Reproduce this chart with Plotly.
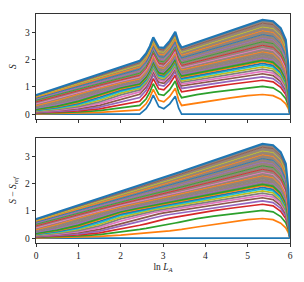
import numpy as np
import plotly.graph_objects as go

# x positions (ln L_A) where the curves were read
ln_la = [0, 0.5, 1, 1.5, 2, 2.45, 2.6, 2.69, 2.77, 2.9, 3.02, 3.16, 3.29, 3.37, 3.44,
         3.8, 4.2, 4.6, 5.0, 5.35, 5.6, 5.78, 5.9, 5.96, 6.0]

# reference entropy S_ref (lowest curve of the upper panel)
s_ref = [0, 0, 0, 0, 0, 0, 0.2, 0.42, 0.7, 0.28, 0.2, 0.38, 0.66, 0.22, 0,
         0, 0, 0, 0, 0, 0, 0, 0, 0, 0]

# S - S_ref for each curve (curve index k)
ds_k0 = [0] * 25
ds_k1 = [0.015, 0.025, 0.04, 0.065, 0.11, 0.16, 0.18, 0.195, 0.21, 0.23, 0.25, 0.27, 0.29, 0.305, 0.32, 0.41, 0.50, 0.60, 0.68, 0.72, 0.68, 0.55, 0.38, 0.21, 0]
ds_k2 = [0.03, 0.05, 0.08, 0.13, 0.22, 0.32, 0.357, 0.386, 0.415, 0.45, 0.487, 0.52, 0.556, 0.579, 0.604, 0.717, 0.81, 0.89, 0.967, 1.017, 0.965, 0.793, 0.565, 0.322, 0]
ds_k3 = [0.045, 0.075, 0.12, 0.195, 0.329, 0.473, 0.527, 0.566, 0.602, 0.648, 0.691, 0.732, 0.766, 0.793, 0.817, 0.922, 1.012, 1.095, 1.178, 1.242, 1.182, 0.984, 0.718, 0.417, 0]
ds_k4 = [0.06, 0.10, 0.16, 0.26, 0.435, 0.611, 0.671, 0.711, 0.747, 0.791, 0.832, 0.868, 0.898, 0.922, 0.942, 1.033, 1.122, 1.208, 1.295, 1.367, 1.304, 1.092, 0.807, 0.474, 0]
ds_k5 = [0.075, 0.125, 0.20, 0.324, 0.535, 0.727, 0.786, 0.824, 0.854, 0.892, 0.927, 0.963, 0.990, 1.015, 1.034, 1.123, 1.216, 1.307, 1.402, 1.479, 1.414, 1.191, 0.888, 0.527, 0]
ds_k6 = [0.09, 0.15, 0.24, 0.388, 0.627, 0.817, 0.871, 0.905, 0.932, 0.967, 1.0, 1.035, 1.06, 1.084, 1.103, 1.195, 1.29, 1.387, 1.487, 1.569, 1.502, 1.271, 0.955, 0.571, 0]
ds_k7 = [0.105, 0.175, 0.279, 0.45, 0.706, 0.889, 0.937, 0.967, 0.992, 1.026, 1.057, 1.092, 1.118, 1.143, 1.163, 1.257, 1.357, 1.459, 1.564, 1.65, 1.581, 1.345, 1.018, 0.611, 0]
ds_k8 = [0.12, 0.20, 0.319, 0.51, 0.773, 0.949, 0.995, 1.025, 1.047, 1.08, 1.112, 1.148, 1.174, 1.2, 1.22, 1.318, 1.423, 1.529, 1.64, 1.73, 1.661, 1.417, 1.08, 0.652, 0]
ds_k9 = [0.135, 0.225, 0.358, 0.567, 0.834, 0.998, 1.041, 1.071, 1.094, 1.127, 1.16, 1.198, 1.225, 1.251, 1.272, 1.372, 1.482, 1.591, 1.706, 1.80, 1.73, 1.481, 1.136, 0.689, 0]
ds_k10 = [0.15, 0.25, 0.396, 0.62, 0.882, 1.037, 1.08, 1.11, 1.132, 1.167, 1.2, 1.239, 1.266, 1.293, 1.314, 1.418, 1.531, 1.644, 1.763, 1.86, 1.789, 1.536, 1.185, 0.722, 0]
ds_k11 = [0.165, 0.274, 0.435, 0.671, 0.923, 1.075, 1.118, 1.147, 1.171, 1.207, 1.24, 1.279, 1.307, 1.335, 1.357, 1.464, 1.58, 1.697, 1.82, 1.92, 1.847, 1.594, 1.233, 0.755, 0]
ds_k12 = [0.18, 0.299, 0.471, 0.716, 0.957, 1.106, 1.148, 1.179, 1.203, 1.238, 1.272, 1.312, 1.341, 1.369, 1.392, 1.502, 1.622, 1.742, 1.867, 1.97, 1.897, 1.639, 1.275, 0.782, 0]
ds_k14 = [0.209, 0.347, 0.542, 0.792, 1.013, 1.16, 1.204, 1.235, 1.259, 1.296, 1.332, 1.373, 1.403, 1.433, 1.457, 1.57, 1.696, 1.821, 1.953, 2.06, 1.988, 1.724, 1.351, 0.834, 0]
ds_k17 = [0.253, 0.417, 0.634, 0.876, 1.075, 1.225, 1.27, 1.302, 1.327, 1.365, 1.403, 1.447, 1.478, 1.51, 1.535, 1.654, 1.786, 1.918, 2.057, 2.17, 2.096, 1.829, 1.445, 0.898, 0]
ds_k21 = [0.31, 0.50, 0.729, 0.946, 1.134, 1.288, 1.335, 1.368, 1.394, 1.434, 1.474, 1.52, 1.553, 1.586, 1.613, 1.738, 1.877, 2.016, 2.161, 2.28, 2.207, 1.936, 1.541, 0.964, 0]
ds_k26 = [0.375, 0.583, 0.807, 1.008, 1.196, 1.357, 1.405, 1.44, 1.468, 1.51, 1.551, 1.6, 1.635, 1.67, 1.697, 1.83, 1.976, 2.122, 2.275, 2.40, 2.328, 2.054, 1.651, 1.039, 0]
ds_k33 = [0.448, 0.66, 0.872, 1.063, 1.256, 1.424, 1.475, 1.512, 1.541, 1.585, 1.629, 1.68, 1.716, 1.753, 1.782, 1.921, 2.074, 2.228, 2.388, 2.52, 2.449, 2.172, 1.761, 1.119, 0]
ds_k42 = [0.509, 0.717, 0.924, 1.12, 1.321, 1.498, 1.552, 1.59, 1.621, 1.667, 1.713, 1.767, 1.805, 1.843, 1.874, 2.02, 2.181, 2.343, 2.512, 2.65, 2.581, 2.303, 1.887, 1.206, 0]
ds_k54 = [0.554, 0.762, 0.974, 1.176, 1.386, 1.571, 1.628, 1.668, 1.70, 1.749, 1.797, 1.853, 1.894, 1.934, 1.966, 2.119, 2.288, 2.458, 2.635, 2.78, 2.713, 2.438, 2.013, 1.295, 0]
ds_k70 = [0.587, 0.80, 1.021, 1.232, 1.451, 1.645, 1.704, 1.746, 1.78, 1.83, 1.881, 1.94, 1.982, 2.024, 2.058, 2.218, 2.396, 2.573, 2.758, 2.91, 2.846, 2.57, 2.145, 1.385, 0]
ds_k91 = [0.618, 0.84, 1.07, 1.291, 1.521, 1.724, 1.786, 1.83, 1.865, 1.918, 1.972, 2.033, 2.078, 2.122, 2.157, 2.325, 2.511, 2.697, 2.891, 3.05, 2.989, 2.718, 2.288, 1.488, 0]
ds_k118 = [0.647, 0.878, 1.119, 1.35, 1.59, 1.803, 1.868, 1.914, 1.951, 2.006, 2.062, 2.127, 2.173, 2.219, 2.256, 2.432, 2.626, 2.82, 3.023, 3.19, 3.133, 2.868, 2.434, 1.595, 0]
ds_k155 = [0.676, 0.917, 1.168, 1.409, 1.66, 1.882, 1.95, 1.998, 2.037, 2.095, 2.152, 2.22, 2.268, 2.316, 2.355, 2.538, 2.741, 2.944, 3.156, 3.33, 3.277, 3.017, 2.587, 1.705, 0]
ds_k200 = [0.70, 0.95, 1.21, 1.46, 1.72, 1.95, 2.02, 2.07, 2.11, 2.17, 2.23, 2.30, 2.35, 2.40, 2.44, 2.63, 2.84, 3.05, 3.27, 3.45, 3.40, 3.15, 2.72, 1.80, 0]

curves = [(0, ds_k0), (1, ds_k1), (2, ds_k2), (3, ds_k3), (4, ds_k4), (5, ds_k5),
          (6, ds_k6), (7, ds_k7), (8, ds_k8), (9, ds_k9), (10, ds_k10), (11, ds_k11),
          (12, ds_k12), (14, ds_k14), (17, ds_k17), (21, ds_k21), (26, ds_k26),
          (33, ds_k33), (42, ds_k42), (54, ds_k54), (70, ds_k70), (91, ds_k91),
          (118, ds_k118), (155, ds_k155), (200, ds_k200)]

tab10 = ['#1f77b4', '#ff7f0e', '#2ca02c', '#d62728', '#9467bd',
         '#8c564b', '#e377c2', '#7f7f7f', '#bcbd22', '#17becf']
blend = 'rgb(150,132,120)'
FILL_FROM = 14
TOP_K = 200

fig = go.Figure()
sref = np.array(s_ref)
for panel, (xa, ya) in enumerate([('x', 'y'), ('x2', 'y2')]):
    for k, ds in curves:
        yv = np.array(ds) + (sref if panel == 0 else 0)
        in_band = FILL_FROM <= k < TOP_K
        width = 0.9 if in_band else (2.2 if k == TOP_K else 1.7)
        fig.add_trace(go.Scatter(
            x=ln_la, y=yv, mode='lines', xaxis=xa, yaxis=ya,
            line=dict(color=tab10[k % 10], width=width),
            fill='tonexty' if k >= FILL_FROM else None,
            fillcolor=blend if k >= FILL_FROM else None,
            showlegend=False, hoverinfo='skip'))

font = dict(family='Liberation Serif, DejaVu Serif, serif', size=9.5, color='#222')
axis_common = dict(showline=True, linecolor='#333', linewidth=0.9, mirror=True,
                   ticks='outside', ticklen=3.5, tickwidth=0.9, tickcolor='#333',
                   showgrid=False, zeroline=False, tickfont=font, automargin=False)
yr = [-0.175, 3.665]
# the page body adds an 8 px offset, so the figure is 8 px smaller and shifted
fig.update_layout(
    width=296, height=274,
    margin=dict(l=28, r=14, t=6, b=39),
    paper_bgcolor='white', plot_bgcolor='white',
    font=font,
    xaxis=dict(domain=[0, 1], anchor='y', range=[0, 6], tickvals=[0, 1, 2, 3, 4, 5, 6],
               showticklabels=False, **axis_common),
    yaxis=dict(domain=[0.5415, 1], anchor='x', range=yr, tickvals=[0, 1, 2, 3],
               title=dict(text='<i>S</i>', font=font, standoff=9), **axis_common),
    xaxis2=dict(domain=[0, 1], anchor='y2', range=[0, 6], tickvals=[0, 1, 2, 3, 4, 5, 6],
                matches='x',
                title=dict(text='ln <i>L</i><sub><i>A</i></sub>', font=font, standoff=3),
                **axis_common),
    yaxis2=dict(domain=[0, 0.4585], anchor='x2', range=yr, tickvals=[0, 1, 2, 3],
                title=dict(text='<i>S</i> − <i>S</i><sub><i>ref</i></sub>', font=font, standoff=9),
                **axis_common),
)

fig.write_html('out.html')
